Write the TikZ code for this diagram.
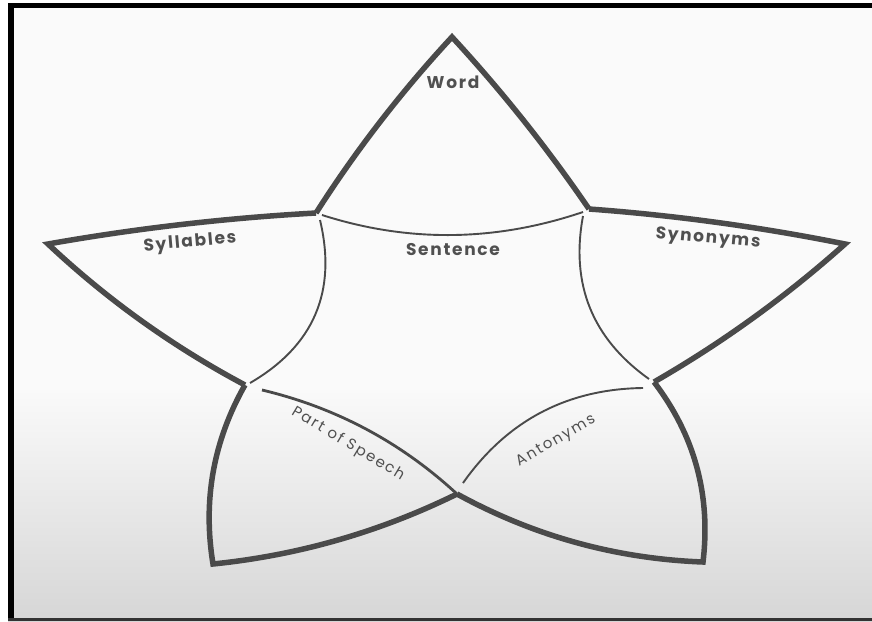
\documentclass[tikz,border=0pt]{standalone}
\usepackage{fontspec}
\setmainfont{Poppins}
\begin{document}
\definecolor{ink}{HTML}{4A4A4A}
\definecolor{textink}{HTML}{505050}
\definecolor{paperlow}{HTML}{D6D6D6}
\tikzset{
  outer/.style={draw=ink, line width=5.5pt, line join=miter, miter limit=12},
  inner/.style={draw=ink, line width=1.9pt},
  innerthick/.style={draw=ink, line width=2.8pt},
  lbl/.style={font=\bfseries\fontsize{17}{19}\selectfont\addfontfeatures{LetterSpace=10}, text=textink, inner sep=0pt},
  lbllight/.style={font=\fontsize{15}{17}\selectfont\addfontfeatures{LetterSpace=12}, text=textink, inner sep=0pt},
}
\begin{tikzpicture}[x=1pt,y=-1pt]
\useasboundingbox (0,0) rectangle (872,621);
% paper
\fill[white] (0,0) rectangle (872,621);
\fill[white!98!black] (8,3) rectangle (872,390);
\shade[top color=white!98!black, bottom color=paperlow] (8,390) rectangle (872,621);
% frame
\fill[black] (8,3) rectangle (872,8);
\fill[black] (8,3) rectangle (14,621);
\fill[black!80] (8,618) rectangle (872,621);

% junctions and tips
\coordinate (T)   at (452,37);
\coordinate (UL)  at (316,213);
\coordinate (UR)  at (589,209);
\coordinate (Lt)  at (48,244);
\coordinate (Rt)  at (845,244);
\coordinate (L)   at (245,385);
\coordinate (R)   at (654,382);
\coordinate (B)   at (457,494);
\coordinate (BLt) at (213,564);
\coordinate (BRt) at (703,562);
% ends of the inner curves (small gaps at the junctions)
\coordinate (s1) at (322,215);
\coordinate (s2) at (583,212);
\coordinate (l1) at (320,220);
\coordinate (l2) at (250,383);
\coordinate (r1) at (583,216);
\coordinate (r2) at (649,379);
\coordinate (p1) at (262,390);
\coordinate (a1) at (643,388);
\coordinate (a2) at (463,483);

% outer (thick) edges
\draw[outer] (UL) .. controls (356,150.3) and (401.3,91.7) .. (T)
                  .. controls (501.8,91) and (547.5,148.3) .. (UR);
\draw[outer] (UR) .. controls (675,215.3) and (760.3,227) .. (Rt)
                  .. controls (786,296.7) and (722.3,342.7) .. (R);
\draw[outer] (R) .. controls (694.7,435.3) and (711,495.3) .. (BRt)
                 .. controls (615.7,558.7) and (533.7,536) .. (B);
\draw[outer] (B) .. controls (379.7,532) and (298.3,555.3) .. (BLt)
                 .. controls (202.6,500.6) and (213.3,440.9) .. (L);
\draw[outer] (L) .. controls (173,346.7) and (107.3,299.7) .. (Lt)
                 .. controls (136.7,228.3) and (226,218) .. (UL);

% inner (thin) edges
\draw[inner] (s1) .. controls (408.3,242.7) and (495.3,241.7) .. (s2);
\draw[inner] (l1) .. controls (337.1,291.7) and (313.7,346) .. (l2);
\draw[inner] (r1) .. controls (570.3,284.3) and (592.3,338.7) .. (r2);
\draw[innerthick] (p1) .. controls (336.1,407.6) and (401.1,442.3) .. (B);
\draw[inner] (a1) .. controls (566.9,389) and (506.9,420.7) .. (a2);

% labels
\node[lbl] (word) at (453,82) {Word};
\node[lbl] (sent) at (453,250) {Sentence};
\node[lbl, rotate=5] (syll) at (190,243) {Syllables};
\node[lbl, rotate=-5] (syno) at (708,239) {Synonyms};
\node[lbllight, rotate=-31] (pos) at (348,444) {Part of Speech};
\node[lbllight, rotate=30] (ant) at (556,441) {Antonyms};
\end{tikzpicture}
\end{document}
